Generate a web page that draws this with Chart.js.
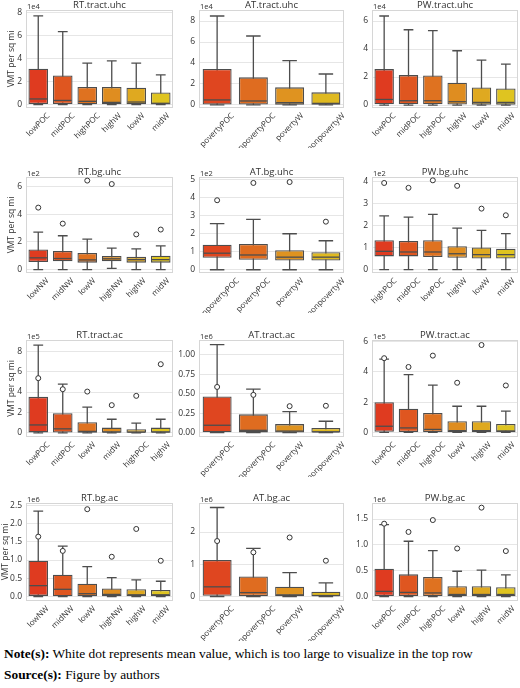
<!DOCTYPE html>
<html>
<head>
<meta charset="utf-8">
<script src="https://cdn.jsdelivr.net/npm/chart.js@4.4.1/dist/chart.umd.min.js"></script>
<style>
  body { margin: 0; background: #fff; }
  #wrap { position: relative; width: 520px; height: 688px; overflow: hidden; background: #fff; }
  #wrap canvas { position: absolute; }
  .note { position: absolute; left: 4px; font-family: 'Liberation Serif', 'Times New Roman', serif; font-size: 13.4px; color: #000; white-space: nowrap; }
</style>
</head>
<body>
<div id="wrap">
  <div class="note" style="top:646px"><b>Note(s):</b> White dot represents mean value, which is too large to visualize in the top row</div>
  <div class="note" style="top:667px"><b>Source(s):</b> Figure by authors</div>
</div>
<script>
// box stats per category: [min, q1, median, q3, max], in units of the panel's offset (1e4, 1e2 ...)
const rtTractUhcLabels = ['lowPOC', 'midPOC', 'highPOC', 'highW', 'lowW', 'midW'];
const rtTractUhcStats = [[0, 0.06, 0.5, 3.13, 7.74], [0, 0.05, 0.37, 2.55, 6.37], [0, 0.04, 0.29, 1.54, 3.63],
                         [0, 0.03, 0.2, 1.54, 3.83], [0, 0.03, 0.23, 1.48, 3.63], [0, 0.02, 0.12, 1.07, 2.6]];
const rtTractUhcTicks = [0, 2, 4, 6, 8];

const atTractUhcLabels = ['povertyPOC', 'nonpovertyPOC', 'povertyW', 'nonpovertyW'];
const atTractUhcStats = [[0, 0.05, 0.48, 3.43, 8.48], [0, 0.04, 0.38, 2.63, 6.57],
                         [0, 0.03, 0.22, 1.68, 4.22], [0, 0.02, 0.15, 1.2, 2.95]];
const atTractUhcTicks = [0, 2, 4, 6, 8];

const pwTractUhcLabels = ['lowPOC', 'midPOC', 'highPOC', 'highW', 'lowW', 'midW'];
const pwTractUhcStats = [[0, 0.06, 0.4, 2.57, 6.36], [0, 0.05, 0.31, 2.14, 5.38], [0, 0.05, 0.31, 2.12, 5.31],
                         [0, 0.04, 0.24, 1.6, 3.88], [0, 0.03, 0.19, 1.26, 3.21], [0, 0.03, 0.19, 1.19, 2.93]];
const pwTractUhcTicks = [0, 2, 4, 6];

const rtBgUhcLabels = ['lowNW', 'midNW', 'lowW', 'highNW', 'highW', 'midW'];
const rtBgUhcStats = [[0, 0.55, 0.85, 1.45, 2.72], [0, 0.6, 0.8, 1.35, 2.45], [0, 0.5, 0.7, 1.2, 2.2],
                      [0.08, 0.6, 0.78, 0.98, 1.55], [0, 0.5, 0.72, 0.92, 1.5], [0, 0.5, 0.72, 1.0, 1.72]];
const rtBgUhcMeans = [4.49, 3.33, 6.45, 6.2, 2.55, 2.9];
const rtBgUhcTicks = [0, 2, 4, 6];

const atBgUhcLabels = ['nonpovertyPOC', 'povertyPOC', 'povertyW', 'nonpovertyW'];
const atBgUhcStats = [[0, 0.66, 0.92, 1.39, 2.56], [0, 0.55, 0.82, 1.43, 2.8],
                      [0, 0.51, 0.7, 1.08, 2.0], [0, 0.51, 0.7, 0.97, 1.61]];
const atBgUhcMeans = [3.86, 4.82, 4.87, 2.67];
const atBgUhcTicks = [0, 1, 2, 3, 4, 5];

const pwBgUhcLabels = ['highPOC', 'midPOC', 'lowPOC', 'highW', 'lowW', 'midW'];
const pwBgUhcStats = [[0, 0.6, 0.83, 1.33, 2.43], [0, 0.6, 0.8, 1.3, 2.38], [0, 0.57, 0.8, 1.33, 2.5],
                      [0, 0.54, 0.72, 1.06, 1.88], [0, 0.5, 0.68, 1.0, 1.78], [0, 0.5, 0.68, 0.95, 1.63]];
const pwBgUhcMeans = [3.92, 3.7, 4.04, 3.79, 2.76, 2.46];
const pwBgUhcTicks = [0, 1, 2, 3, 4];

const rtTractAcLabels = ['lowPOC', 'midPOC', 'lowW', 'midW', 'highPOC', 'highW'];
const rtTractAcStats = [[0, 0.05, 0.78, 3.53, 8.6], [0, 0.03, 0.4, 1.93, 4.77], [0, 0.02, 0.15, 1.05, 2.52],
                        [0, 0.02, 0.1, 0.52, 1.34], [0, 0.01, 0.08, 0.36, 0.95], [0, 0.02, 0.1, 0.52, 1.34]];
const rtTractAcMeans = [5.36, 4.28, 4.05, 2.72, 3.63, 6.73];
const rtTractAcTicks = [0, 2, 4, 6, 8];

const atTractAcLabels = ['povertyPOC', 'nonpovertyPOC', 'povertyW', 'nonpovertyW'];
const atTractAcStats = [[0, 0.005, 0.095, 0.465, 1.13], [0, 0.003, 0.03, 0.235, 0.56],
                        [0, 0.002, 0.02, 0.11, 0.27], [0, 0.001, 0.01, 0.06, 0.146]];
const atTractAcMeans = [0.587, 0.485, 0.34, 0.345];
const atTractAcTicks = [0, 0.25, 0.5, 0.75, 1.0];

const pwTractAcLabels = ['lowPOC', 'midPOC', 'highPOC', 'lowW', 'highW', 'midW'];
const pwTractAcStats = [[0, 0.04, 0.41, 2.0, 4.84], [0, 0.03, 0.3, 1.56, 3.82], [0, 0.02, 0.2, 1.28, 3.12],
                        [0, 0.02, 0.12, 0.74, 1.73], [0, 0.02, 0.12, 0.74, 1.73], [0, 0.02, 0.1, 0.56, 1.41]];
const pwTractAcMeans = [4.9, 4.32, 5.07, 3.28, 5.77, 3.1];
const pwTractAcTicks = [0, 2, 4, 6];

const rtBgAcLabels = ['lowNW', 'midNW', 'lowW', 'highNW', 'highW', 'midW'];
const rtBgAcStats = [[0, 0.02, 0.3, 0.98, 2.34], [0, 0.01, 0.2, 0.6, 1.38], [0, 0.01, 0.08, 0.35, 0.82],
                     [0, 0.01, 0.06, 0.22, 0.52], [0, 0.01, 0.05, 0.2, 0.46], [0, 0.01, 0.05, 0.18, 0.42]];
const rtBgAcMeans = [1.64, 1.25, 2.39, 1.09, 1.85, 0.98];
const rtBgAcTicks = [0, 0.5, 1.0, 1.5, 2.0, 2.5];

const atBgAcLabels = ['povertyPOC', 'nonpovertyPOC', 'povertyW', 'nonpovertyW'];
const atBgAcStats = [[0, 0.02, 0.3, 1.13, 2.76], [0, 0.01, 0.12, 0.62, 1.49],
                     [0, 0.01, 0.05, 0.3, 0.74], [0, 0.005, 0.03, 0.15, 0.42]];
const atBgAcMeans = [1.72, 1.37, 1.83, 1.11];
const atBgAcTicks = [0, 1, 2];

const pwBgAcLabels = ['lowPOC', 'midPOC', 'highPOC', 'lowW', 'highW', 'midW'];
const pwBgAcStats = [[0, 0.01, 0.1, 0.54, 1.39], [0, 0.01, 0.08, 0.43, 1.07], [0, 0.01, 0.07, 0.38, 0.89],
                     [0, 0.005, 0.04, 0.2, 0.49], [0, 0.005, 0.04, 0.2, 0.51], [0, 0.005, 0.04, 0.18, 0.42]];
const pwBgAcMeans = [1.41, 1.25, 1.48, 0.93, 1.72, 0.88];
const pwBgAcTicks = [0, 0.5, 1.0, 1.5];

const pal6 = ['#df3b20', '#df5620', '#df7220', '#df8d20', '#dfa920', '#dfc420'];
const pal4 = ['#df4620', '#df6c20', '#df9320', '#dfb920'];

const panels = [
  { title: 'RT.tract.uhc', labels: rtTractUhcLabels, stats: rtTractUhcStats, means: null, ticks: rtTractUhcTicks, exp: '1e4', dec: 0, range: [-0.29, 8.26] },
  { title: 'AT.tract.uhc', labels: atTractUhcLabels, stats: atTractUhcStats, means: null, ticks: atTractUhcTicks, exp: '1e4', dec: 0, range: [-0.29, 9.05] },
  { title: 'PW.tract.uhc', labels: pwTractUhcLabels, stats: pwTractUhcStats, means: null, ticks: pwTractUhcTicks, exp: '1e4', dec: 0, range: [-0.21, 6.79] },
  { title: 'RT.bg.uhc', labels: rtBgUhcLabels, stats: rtBgUhcStats, means: rtBgUhcMeans, ticks: rtBgUhcTicks, exp: '1e2', dec: 0, range: [-0.25, 6.71] },
  { title: 'AT.bg.uhc', labels: atBgUhcLabels, stats: atBgUhcStats, means: atBgUhcMeans, ticks: atBgUhcTicks, exp: '1e2', dec: 0, range: [-0.18, 5.15] },
  { title: 'PW.bg.uhc', labels: pwBgUhcLabels, stats: pwBgUhcStats, means: pwBgUhcMeans, ticks: pwBgUhcTicks, exp: '1e2', dec: 0, range: [-0.15, 4.19] },
  { title: 'RT.tract.ac', labels: rtTractAcLabels, stats: rtTractAcStats, means: rtTractAcMeans, ticks: rtTractAcTicks, exp: '1e5', dec: 0, range: [-0.4, 9.1] },
  { title: 'AT.tract.ac', labels: atTractAcLabels, stats: atTractAcStats, means: atTractAcMeans, ticks: atTractAcTicks, exp: '1e6', dec: 2, range: [-0.056, 1.19] },
  { title: 'PW.tract.ac', labels: pwTractAcLabels, stats: pwTractAcStats, means: pwTractAcMeans, ticks: pwTractAcTicks, exp: '1e5', dec: 0, range: [-0.3, 6.1] },
  { title: 'RT.bg.ac', labels: rtBgAcLabels, stats: rtBgAcStats, means: rtBgAcMeans, ticks: rtBgAcTicks, exp: '1e6', dec: 1, range: [-0.12, 2.56] },
  { title: 'AT.bg.ac', labels: atBgAcLabels, stats: atBgAcStats, means: atBgAcMeans, ticks: atBgAcTicks, exp: '1e6', dec: 0, range: [-0.14, 2.9] },
  { title: 'PW.bg.ac', labels: pwBgAcLabels, stats: pwBgAcStats, means: pwBgAcMeans, ticks: pwBgAcTicks, exp: '1e6', dec: 1, range: [-0.086, 1.81] },
];

const cols = [{ left: 26, right: 173 }, { left: 199, right: 344 }, { left: 372, right: 518 }];
const rows = [{ top: 10, bottom: 108 }, { top: 177, bottom: 273 }, { top: 340, bottom: 437 }, { top: 503, bottom: 601 }];

const AXIS_W = 26, PAD_TOP = 14, PAD_RIGHT = 12, XLAB_H = 40;
const LINE = '#4d4d4d';
const TEXT = '#303030';
const FONT = "'Open Sans', sans-serif";

Chart.defaults.font.family = FONT;
Chart.defaults.color = TEXT;

// light frame round the plot area, like seaborn whitegrid spines
const chartAreaBorder = {
  id: 'chartAreaBorder',
  beforeDatasetsDraw(chart, args, options) {
    const { ctx, chartArea } = chart;
    ctx.save();
    ctx.strokeStyle = options.borderColor;
    ctx.lineWidth = 1;
    ctx.strokeRect(chartArea.left + 0.5, chartArea.top + 0.5,
      chartArea.right - chartArea.left - 1, chartArea.bottom - chartArea.top - 1);
    ctx.restore();
  }
};

// whiskers + caps behind the boxes, medians on top of them
const boxWhiskers = {
  id: 'boxWhiskers',
  beforeDatasetsDraw(chart, args, options) {
    const { ctx, scales: { y } } = chart;
    const bars = chart.getDatasetMeta(0).data;
    ctx.save();
    ctx.strokeStyle = LINE;
    ctx.lineWidth = 1.3;
    options.stats.forEach((s, i) => {
      const cx = bars[i].x;
      const cap = bars[i].width / 4;
      const yMin = y.getPixelForValue(s[0]);
      const yMax = y.getPixelForValue(s[4]);
      ctx.beginPath();
      ctx.moveTo(cx, yMin); ctx.lineTo(cx, yMax);
      ctx.moveTo(cx - cap, yMin); ctx.lineTo(cx + cap, yMin);
      ctx.moveTo(cx - cap, yMax); ctx.lineTo(cx + cap, yMax);
      ctx.stroke();
    });
    ctx.restore();
  },
  afterDatasetDraw(chart, args, options) {
    if (args.index !== 0) return;
    const { ctx, scales: { y } } = chart;
    const bars = chart.getDatasetMeta(0).data;
    ctx.save();
    ctx.strokeStyle = LINE;
    ctx.lineWidth = 1.3;
    options.stats.forEach((s, i) => {
      const b = bars[i];
      const ym = y.getPixelForValue(s[2]);
      ctx.beginPath();
      ctx.moveTo(b.x - b.width / 2 + 1, ym);
      ctx.lineTo(b.x + b.width / 2 - 1, ym);
      ctx.stroke();
    });
    ctx.restore();
  }
};

// title, offset text ("1e4") and 45 degree x labels centred under each box
const panelText = {
  id: 'panelText',
  afterDraw(chart, args, options) {
    const { ctx, chartArea, scales: { x } } = chart;
    ctx.save();
    ctx.fillStyle = TEXT;
    ctx.textBaseline = 'alphabetic';
    ctx.font = '9.5px ' + FONT;
    ctx.textAlign = 'center';
    ctx.fillText(options.title, (chartArea.left + chartArea.right) / 2, chartArea.top - 2);
    ctx.font = '7.5px ' + FONT;
    ctx.textAlign = 'left';
    ctx.fillText(options.exp, chartArea.left + 1, chartArea.top - 1.5);

    ctx.font = '8px ' + FONT;
    ctx.textAlign = 'center';
    ctx.textBaseline = 'middle';
    chart.data.labels.forEach((lab, i) => {
      const w = ctx.measureText(lab).width;
      const ext = (w + 7) * Math.SQRT1_2;
      ctx.save();
      ctx.translate(x.getPixelForValue(i), chartArea.bottom + 4 + ext / 2);
      ctx.rotate(-Math.PI / 4);
      ctx.fillText(lab, 0, 0);
      ctx.restore();
    });
    ctx.restore();
  }
};

function renderPanel(p, idx) {
  const col = cols[idx % 3];
  const row = rows[Math.floor(idx / 3)];
  const canvas = document.createElement('canvas');
  const w = col.right - col.left + AXIS_W + PAD_RIGHT;
  const h = row.bottom - row.top + PAD_TOP + XLAB_H;
  canvas.width = w;
  canvas.height = h;
  canvas.style.left = (col.left - AXIS_W) + 'px';
  canvas.style.top = (row.top - PAD_TOP) + 'px';
  canvas.style.width = w + 'px';
  canvas.style.height = h + 'px';
  document.getElementById('wrap').appendChild(canvas);

  const pal = p.labels.length === 4 ? pal4 : pal6;
  const datasets = [{
    type: 'bar',
    data: p.stats.map(s => [s[1], s[3]]),
    backgroundColor: pal,
    borderColor: LINE,
    borderWidth: 1.3,
    borderSkipped: false,
    categoryPercentage: 0.8,
    barPercentage: 1.0,
    order: 1
  }];
  if (p.means) {
    datasets.push({
      type: 'line',
      data: p.means,
      showLine: false,
      pointStyle: 'circle',
      pointRadius: 2.5,
      pointBorderWidth: 1,
      pointBackgroundColor: '#ffffff',
      pointBorderColor: '#333333',
      order: 0
    });
  }

  new Chart(canvas, {
    type: 'bar',
    data: { labels: p.labels, datasets },
    options: {
      responsive: false,
      animation: false,
      events: [],
      devicePixelRatio: 1,
      layout: { padding: { left: 0, right: PAD_RIGHT, top: PAD_TOP, bottom: 0 } },
      plugins: {
        legend: { display: false },
        tooltip: { enabled: false },
        chartAreaBorder: { borderColor: '#d6d6d6' },
        boxWhiskers: { stats: p.stats },
        panelText: { title: p.title, exp: p.exp }
      },
      scales: {
        x: {
          type: 'category',
          offset: true,
          grid: { display: false },
          border: { display: false },
          ticks: { display: false },
          afterFit: s => { s.height = XLAB_H; }
        },
        y: {
          min: p.range[0],
          max: p.range[1],
          grid: { color: '#e6e6e6', drawTicks: false, lineWidth: 1 },
          border: { display: false },
          afterBuildTicks: axis => { axis.ticks = p.ticks.map(v => ({ value: v })); },
          afterFit: s => { s.width = AXIS_W; },
          ticks: {
            padding: 4,
            autoSkip: false,
            font: { size: 8.5 },
            color: TEXT,
            callback: v => Number(v).toFixed(p.dec)
          },
          title: {
            display: idx % 3 === 0,
            text: 'VMT per sq mi',
            font: { size: 8.5 },
            color: TEXT,
            padding: { top: p.dec > 0 ? 0 : 6, bottom: 0 }
          }
        }
      }
    },
    plugins: [chartAreaBorder, boxWhiskers, panelText]
  });
}

panels.forEach(renderPanel);
</script>
</body>
</html>
